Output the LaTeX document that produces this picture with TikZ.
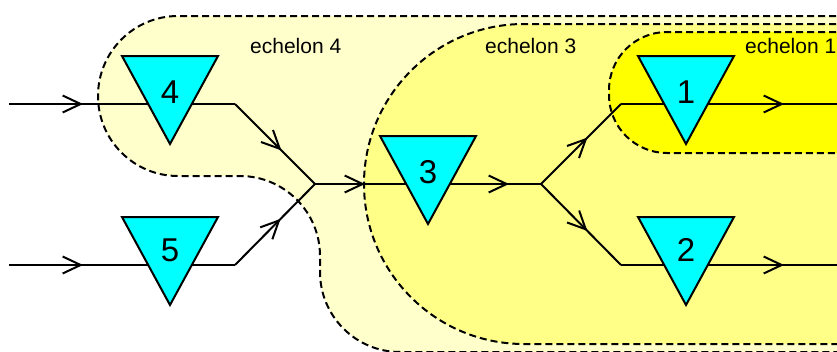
\documentclass[tikz,border=0pt]{standalone}
\usepackage{fontspec}
\setmainfont{Liberation Sans}
\usetikzlibrary{arrows.meta,decorations.markings}
\definecolor{echfour}{RGB}{255,255,204}
\definecolor{echthree}{RGB}{255,255,136}
\definecolor{echone}{RGB}{255,255,0}
\definecolor{stockcyan}{RGB}{0,255,255}
\tikzset{
  >={Straight Barb[length=18pt,width=17pt]},
  region/.style={draw=black, line width=2pt, dash pattern=on 7pt off 4pt},
  flow/.style={draw=black, line width=2pt},
  midarrow/.style={postaction={decorate},
    decoration={markings, mark=at position #1 with {\arrow{>}}}},
  stocktri/.style={draw=black, fill=stockcyan, line width=2pt},
  digit/.style={inner sep=0pt, font=\fontsize{33}{38}\selectfont},
  echlabel/.style={inner sep=0pt, anchor=base west, font=\fontsize{21}{25}\selectfont}
}
\begin{document}
\begin{tikzpicture}[x=1pt, y=-1pt]
  \useasboundingbox (0,0) rectangle (837,351);
  % echelons
  \fill[echfour, rounded corners=80] (1100,16) -- (98,16) -- (98,176) -- (320,176) -- (320,352) -- (1100,352) -- cycle;
  \draw[region, rounded corners=80] (1100,16) -- (98,16) -- (98,176) -- (320,176) -- (320,352) -- (1100,352);
  \fill[echthree, rounded corners=160] (1100,24) -- (364,24) -- (364,344) -- (1100,344) -- cycle;
  \draw[region, rounded corners=160] (1100,24) -- (364,24) -- (364,344) -- (1100,344);
  \fill[echone, rounded corners=58] (1100,32) -- (609,32) -- (609,153) -- (1100,153) -- cycle;
  \draw[region, rounded corners=58] (1100,32) -- (609,32) -- (609,153) -- (1100,153);
  \node[echlabel] (e4) at (250,53) {echelon 4};
  \node[echlabel] (e3) at (485,53) {echelon 3};
  \node[echlabel] (e1) at (745,53) {echelon 1};
  % flow points
  \coordinate (in4) at (9,104);   \coordinate (in5) at (9,265);
  \coordinate (b4) at (235,104);  \coordinate (b5) at (235,265);
  \coordinate (j) at (315,184);   \coordinate (c3) at (428,184);
  \coordinate (s) at (541,184);
  \coordinate (b1) at (621,104);  \coordinate (b2) at (621,265);
  \coordinate (out1) at (840,104); \coordinate (out2) at (840,265);
  % connectors
  \draw[flow, midarrow=74pt] (in4) -- (b4);
  \draw[flow, midarrow=74pt] (in5) -- (b5);
  \draw[flow, midarrow=0.58] (b4) -- (j);
  \draw[flow, midarrow=0.57] (b5) -- (j);
  \draw[flow, midarrow=50pt] (j) -- (c3);
  \draw[flow, midarrow=81pt] (c3) -- (s);
  \draw[flow, midarrow=0.58] (s) -- (b1);
  \draw[flow, midarrow=0.58] (s) -- (b2);
  \draw[flow, midarrow=163pt] (b1) -- (out1);
  \draw[flow, midarrow=163pt] (b2) -- (out2);
  % stocks
  \draw[stocktri] (122,56) -- (218,56) -- (170,144) -- cycle;
  \draw[stocktri] (122,217) -- (218,217) -- (170,305) -- cycle;
  \draw[stocktri] (380,136) -- (476,136) -- (428,224) -- cycle;
  \draw[stocktri] (638,56) -- (734,56) -- (686,144) -- cycle;
  \draw[stocktri] (638,217) -- (734,217) -- (686,305) -- cycle;
  \node[digit] (n4) at (170,92) {4};
  \node[digit] (n5) at (170,250) {5};
  \node[digit] (n3) at (428,172) {3};
  \node[digit] (n1) at (686,92) {1};
  \node[digit] (n2) at (686,250) {2};
\end{tikzpicture}
\end{document}
